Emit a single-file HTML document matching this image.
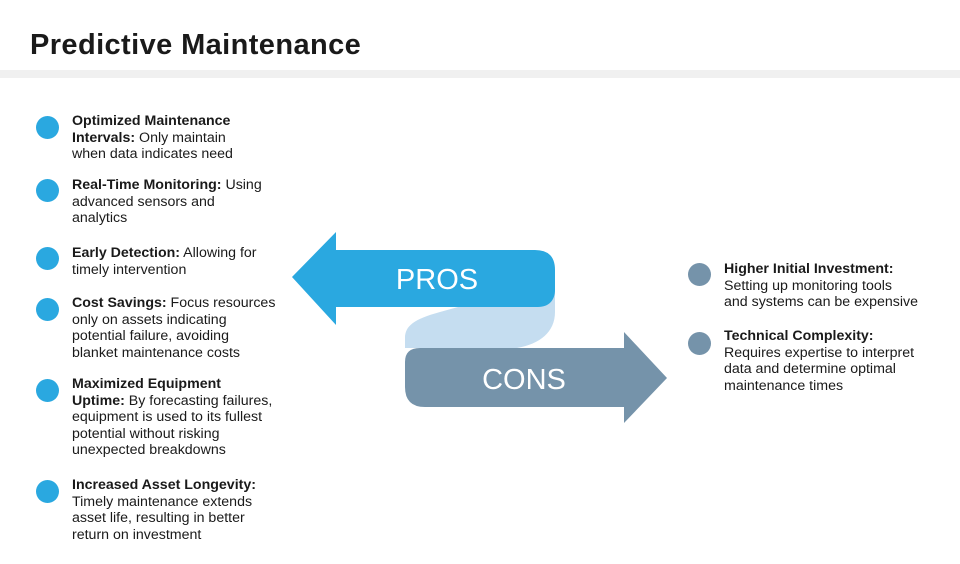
<!DOCTYPE html>
<html><head><meta charset="utf-8"><style>
body{margin:0;width:960px;height:564px;background:#fff;position:relative;overflow:hidden;font-family:"Liberation Sans",sans-serif;color:#1a1a1a}
.t{position:absolute;left:30px;top:29px;font-size:29px;font-weight:bold;letter-spacing:0.4px}
.band{position:absolute;left:0;top:70px;width:960px;height:8px;background:#f0f0f0}
.i{position:absolute;font-size:14.2px;line-height:16.6px;white-space:nowrap}
.b{position:absolute;width:23px;height:23px;border-radius:50%}
.bl{background:#2aa8e0}.gr{background:#7593aa}
</style></head><body>
<div class="t">Predictive Maintenance</div>
<div class="band"></div>

<div class="b bl" style="left:36px;top:116px"></div>
<div class="i" style="left:72px;top:113px"><b>Optimized Maintenance<br>Intervals:</b> Only maintain<br>when data indicates need</div>
<div class="b bl" style="left:36px;top:179px"></div>
<div class="i" style="left:72px;top:177px"><b>Real-Time Monitoring:</b> Using<br>advanced sensors and<br>analytics</div>
<div class="b bl" style="left:36px;top:247px"></div>
<div class="i" style="left:72px;top:245px"><b>Early Detection:</b> Allowing for<br>timely intervention</div>
<div class="b bl" style="left:36px;top:298px"></div>
<div class="i" style="left:72px;top:295px"><b>Cost Savings:</b> Focus resources<br>only on assets indicating<br>potential failure, avoiding<br>blanket maintenance costs</div>
<div class="b bl" style="left:36px;top:379px"></div>
<div class="i" style="left:72px;top:376px"><b>Maximized Equipment<br>Uptime:</b> By forecasting failures,<br>equipment is used to its fullest<br>potential without risking<br>unexpected breakdowns</div>
<div class="b bl" style="left:36px;top:480px"></div>
<div class="i" style="left:72px;top:477px"><b>Increased Asset Longevity:</b><br>Timely maintenance extends<br>asset life, resulting in better<br>return on investment</div>

<div class="b gr" style="left:688px;top:263px"></div>
<div class="i" style="left:724px;top:261px"><b>Higher Initial Investment:</b><br>Setting up monitoring tools<br>and systems can be expensive</div>
<div class="b gr" style="left:688px;top:332px"></div>
<div class="i" style="left:724px;top:328px"><b>Technical Complexity:</b><br>Requires expertise to interpret<br>data and determine optimal<br>maintenance times</div>

<svg style="position:absolute;left:0;top:0" width="960" height="564">
<path d="M292,277 L336,232 L336,250 L535,250 Q555,250 555,270 L555,300 Q555,307 548,307 L336,307 L336,325 Z" fill="#2aa8e0"/>
<path d="M667,378 L624,332 L624,348 L420,348 Q405,348 405,362 L405,387 Q405,407 425,407 L624,407 L624,423 Z" fill="#7593aa"/>
<path d="M405,348 L405,338 C405,326 414,319 440,312 L458,307 L538,307 C549,307 555,300 555,290 L555,312 C555,332 540,344 517,348 Z" fill="#c5ddf0"/>
<text x="437" y="289" font-family="Liberation Sans, sans-serif" font-size="29" fill="#fff" text-anchor="middle">PROS</text>
<text x="524" y="389" font-family="Liberation Sans, sans-serif" font-size="29" fill="#fff" text-anchor="middle">CONS</text>
</svg>
</body></html>
